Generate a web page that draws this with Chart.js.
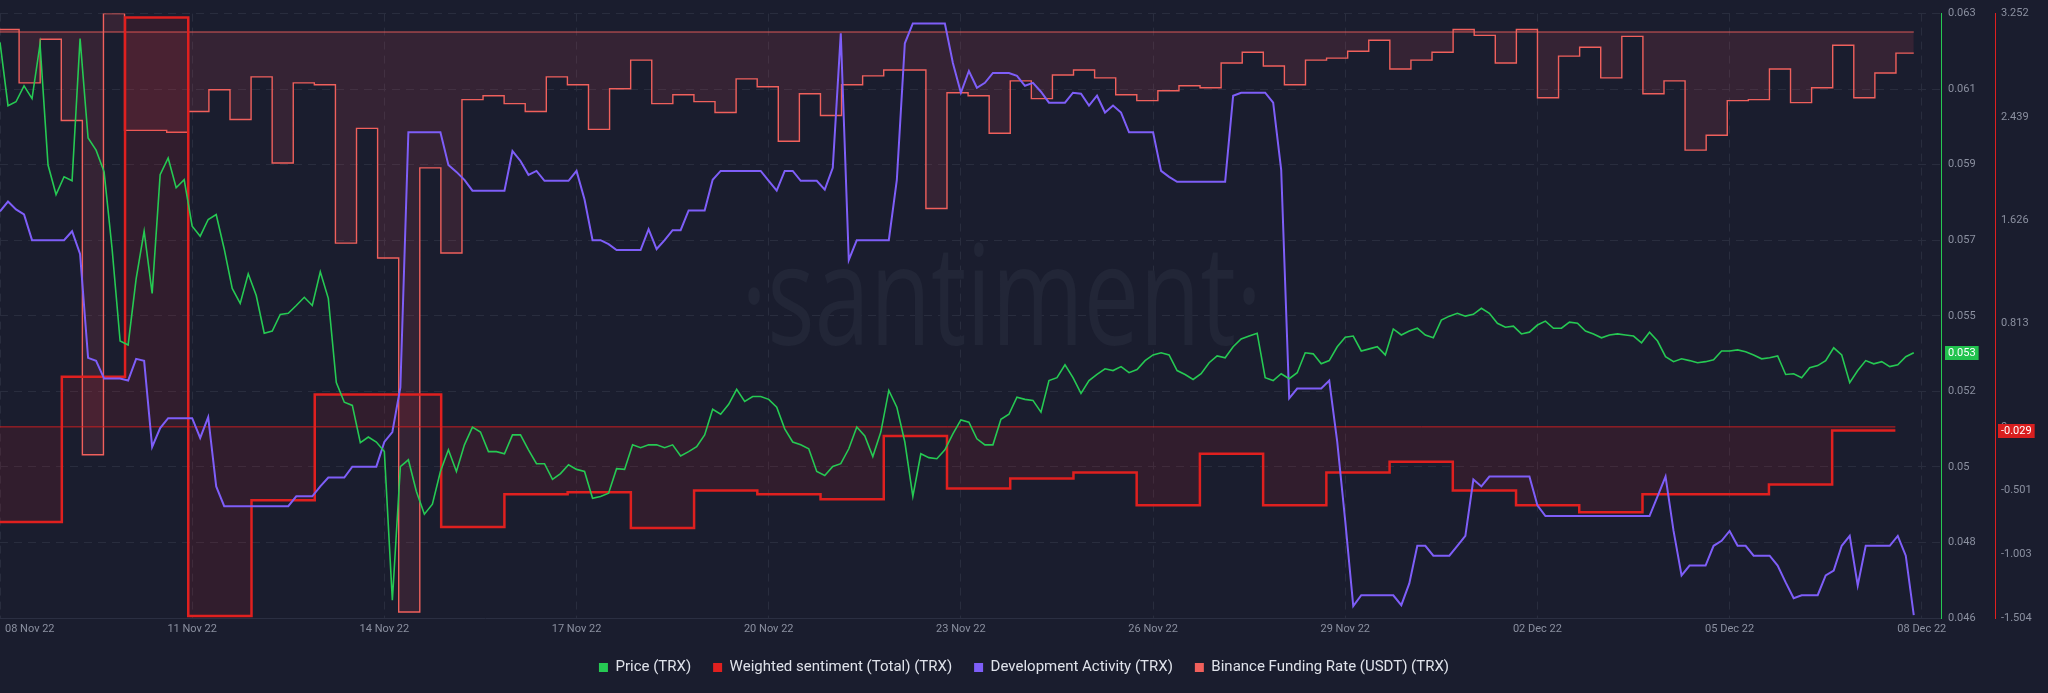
<!DOCTYPE html>
<html>
<head>
<meta charset="utf-8">
<title>TRX - Santiment</title>
<script src="https://cdn.jsdelivr.net/npm/chart.js@4.4.1/dist/chart.umd.min.js"></script>
<style>
    html, body { margin: 0; padding: 0; background: #1a1d2e; }
    #wrap { width: 2048px; height: 693px; }
</style>
</head>
<body>
<div id="wrap"><canvas id="trxChart" width="2048" height="693"></canvas></div>
<script>
// x axis labels, one every 3 days starting 08 Nov 22
const dateLabels = ['08 Nov 22', '11 Nov 22', '14 Nov 22', '17 Nov 22', '20 Nov 22', '23 Nov 22',
    '26 Nov 22', '29 Nov 22', '02 Dec 22', '05 Dec 22', '08 Dec 22'];
const priceTickLabels = ['0.046', '0.048', '0.05', '0.052', '0.055', '0.057', '0.059', '0.061', '0.063'];
const sentimentTicks = [-1.504, -1.003, -0.501, 0, 0.813, 1.626, 2.439, 3.252];

// Price (TRX), every 3 hours from 08 Nov 00:00
const priceTrx = [
    0.06219, 0.06041, 0.06052, 0.06097, 0.06061, 0.06214, 0.05874, 0.05791, 0.05841, 0.05830,
    0.06230, 0.05950, 0.05916, 0.05855, 0.05638, 0.05379, 0.05368, 0.05554, 0.05688, 0.05513,
    0.05847, 0.05894, 0.05810, 0.05833, 0.05702, 0.05674, 0.05721, 0.05735, 0.05638, 0.05527,
    0.05485, 0.05568, 0.05507, 0.05401, 0.05407, 0.05454, 0.05457, 0.05479, 0.05502, 0.05479,
    0.05574, 0.05499, 0.05262, 0.05207, 0.05198, 0.05093, 0.05109, 0.05095, 0.05068, 0.04650,
    0.05026, 0.05045, 0.04956, 0.04892, 0.04920, 0.05012, 0.05073, 0.05012, 0.05087, 0.05137,
    0.05123, 0.05068, 0.05068, 0.05062, 0.05115, 0.05115, 0.05073, 0.05034, 0.05034, 0.04990,
    0.05006, 0.05031, 0.05018, 0.05012, 0.04937, 0.04942, 0.04951, 0.05020, 0.05018, 0.05087,
    0.05079, 0.05087, 0.05087, 0.05079, 0.05087, 0.05056, 0.05068, 0.05082, 0.05115, 0.05187,
    0.05173, 0.05201, 0.05243, 0.05209, 0.05223, 0.05223, 0.05215, 0.05193, 0.05132, 0.05095,
    0.05087, 0.05076, 0.05012, 0.05001, 0.05026, 0.05034, 0.05076, 0.05137, 0.05112, 0.05054,
    0.05123, 0.05240, 0.05193, 0.05095, 0.04942, 0.05062, 0.05051, 0.05048, 0.05073, 0.05118,
    0.05157, 0.05151, 0.05104, 0.05087, 0.05087, 0.05159, 0.05173, 0.05221, 0.05215, 0.05212,
    0.05179, 0.05268, 0.05276, 0.05312, 0.05276, 0.05232, 0.05268, 0.05285, 0.05301, 0.05296,
    0.05307, 0.05290, 0.05299, 0.05324, 0.05340, 0.05346, 0.05340, 0.05296, 0.05285, 0.05271,
    0.05287, 0.05318, 0.05337, 0.05332, 0.05363, 0.05385, 0.05393, 0.05401, 0.05276, 0.05268,
    0.05287, 0.05273, 0.05290, 0.05346, 0.05343, 0.05315, 0.05324, 0.05363, 0.05390, 0.05393,
    0.05351, 0.05357, 0.05363, 0.05340, 0.05413, 0.05396, 0.05407, 0.05415, 0.05396, 0.05388,
    0.05438, 0.05449, 0.05457, 0.05449, 0.05454, 0.05471, 0.05457, 0.05429, 0.05418, 0.05421,
    0.05399, 0.05404, 0.05424, 0.05435, 0.05415, 0.05415, 0.05432, 0.05429, 0.05407, 0.05399,
    0.05388, 0.05396, 0.05399, 0.05396, 0.05393, 0.05374, 0.05404, 0.05379, 0.05335, 0.05321,
    0.05329, 0.05324, 0.05318, 0.05321, 0.05326, 0.05351, 0.05351, 0.05354, 0.05349, 0.05340,
    0.05329, 0.05332, 0.05337, 0.05285, 0.05287, 0.05276, 0.05304, 0.05310, 0.05324, 0.05360,
    0.05340, 0.05262, 0.05296, 0.05324, 0.05315, 0.05321, 0.05307, 0.05312, 0.05335, 0.05346
];

// Development Activity (TRX), same 3 hour steps
const devActivity = [
    41.1, 42.1, 41.3, 40.8, 38.2, 38.2, 38.2, 38.2, 38.2, 39.1,
    36.8, 26.3, 26.0, 24.2, 24.2, 24.2, 24.0, 26.2, 26.0, 17.3,
    19.2, 20.2, 20.2, 20.2, 20.2, 18.2, 20.3, 13.3, 11.3, 11.3,
    11.3, 11.3, 11.3, 11.3, 11.3, 11.3, 11.3, 12.3, 12.3, 12.3,
    13.3, 14.2, 14.2, 14.2, 15.3, 15.3, 15.3, 15.3, 17.8, 18.8,
    23.3, 49.1, 49.1, 49.1, 49.1, 49.1, 45.8, 45.1, 44.3, 43.2,
    43.2, 43.2, 43.2, 43.2, 47.2, 46.2, 44.8, 45.2, 44.2, 44.2,
    44.2, 44.2, 45.2, 42.3, 38.2, 38.2, 37.8, 37.2, 37.2, 37.2,
    37.2, 39.3, 37.3, 38.2, 39.2, 39.2, 41.2, 41.2, 41.2, 44.3,
    45.2, 45.2, 45.2, 45.2, 45.2, 45.2, 44.2, 43.2, 45.2, 45.2,
    44.2, 44.2, 44.2, 43.3, 45.5, 59.1, 36.2, 38.2, 38.2, 38.2,
    38.2, 38.2, 44.3, 58.1, 60.1, 60.1, 60.1, 60.1, 60.1, 56.1,
    53.1, 55.3, 53.6, 54.1, 55.1, 55.1, 55.1, 54.8, 53.8, 54.1,
    53.2, 52.1, 52.1, 52.1, 53.1, 53.0, 51.8, 52.8, 51.1, 51.8,
    51.1, 49.1, 49.1, 49.1, 49.1, 45.2, 44.6, 44.1, 44.1, 44.1,
    44.1, 44.1, 44.1, 44.1, 52.8, 53.1, 53.1, 53.1, 53.1, 52.1,
    45.3, 22.2, 23.2, 23.2, 23.2, 23.2, 24.0, 17.8, 9.8, 1.2,
    2.3, 2.3, 2.3, 2.3, 2.3, 1.3, 3.5, 7.3, 7.3, 6.3,
    6.3, 6.3, 7.3, 8.3, 14.0, 13.3, 14.3, 14.3, 14.3, 14.3,
    14.3, 14.3, 11.4, 10.3, 10.3, 10.3, 10.3, 10.3, 10.3, 10.3,
    10.3, 10.3, 10.3, 10.3, 10.3, 10.3, 10.3, 12.3, 14.3, 8.8,
    4.3, 5.3, 5.3, 5.3, 7.3, 7.8, 8.8, 7.3, 7.3, 6.3,
    6.3, 6.3, 5.3, 3.6, 2.0, 2.3, 2.3, 2.3, 4.3, 4.8,
    7.3, 8.3, 3.3, 7.3, 7.3, 7.3, 7.3, 8.3, 6.3, 0.3
];

// Weighted sentiment (Total), daily
const sentiment = [
    -0.749, 0.395, 3.221, -1.488, -0.578, 0.255, 0.255, -0.788, -0.531, -0.515,
    -0.796, -0.500, -0.531, -0.570, -0.072, -0.484, -0.406, -0.360, -0.617, -0.212,
    -0.617, -0.360, -0.274, -0.500, -0.617, -0.671, -0.531, -0.531, -0.453, -0.029
];

// Binance Funding Rate (USDT), every 8 hours (%)
const funding = [
    0.0025, -0.0515, -0.0075, -0.0895, -0.4275, 0.0185, -0.0995, -0.0995, -0.1015, -0.0805,
    -0.0585, -0.0885, -0.0455, -0.1325, -0.0515, -0.0535, -0.2135, -0.0975, -0.2285, -0.5865,
    -0.1375, -0.2235, -0.0685, -0.0645, -0.0725, -0.0805, -0.0455, -0.0535, -0.0985, -0.0575,
    -0.0285, -0.0725, -0.0635, -0.0705, -0.0815, -0.0475, -0.0555, -0.1105, -0.0625, -0.0845,
    -0.0535, -0.0445, -0.0385, -0.0385, -0.1785, -0.0615, -0.0645, -0.1025, -0.0495, -0.0675,
    -0.0435, -0.0385, -0.0465, -0.0635, -0.0695, -0.0595, -0.0545, -0.0565, -0.0315, -0.0205,
    -0.0345, -0.0535, -0.0285, -0.0265, -0.0195, -0.0085, -0.0375, -0.0285, -0.0205, 0.0025,
    -0.0035, -0.0315, 0.0025, -0.0665, -0.0245, -0.0155, -0.0465, -0.0045, -0.0625, -0.0495,
    -0.1195, -0.1045, -0.0695, -0.0685, -0.0375, -0.0715, -0.0565, -0.0135, -0.0665, -0.0415,
    -0.0215
];

// x is measured in days since 08 Nov 22 00:00
const STEP_3H = 0.125;
const SENT_START = -0.022, SENT_STEP = 0.987;
const FUND_START = -0.031, FUND_STEP = 0.3292;

const pricePoints = priceTrx.map((v, i) => ({ x: i * STEP_3H, y: v }));
const devPoints = devActivity.map((v, i) => ({ x: i * STEP_3H, y: v }));
const sentPoints = sentiment.map((v, i) => ({ x: SENT_START + i * SENT_STEP, y: v }));
sentPoints.push({ x: SENT_START + sentiment.length * SENT_STEP, y: sentiment[sentiment.length - 1] });
const fundPoints = funding.map((v, i) => ({ x: FUND_START + i * FUND_STEP, y: v }));
fundPoints.push({ x: (priceTrx.length - 1) * STEP_3H, y: funding[funding.length - 1] });

const GRID = '#292d3e';
const LABEL = '#8b90a0';

// faint logo behind the lines
const watermark = {
    id: 'watermark',
    beforeDatasetsDraw(chart) {
        const { ctx, chartArea } = chart;
        const text = '\u00b7santiment\u00b7';
        ctx.save();
        ctx.font = '400 140px "Open Sans"';
        const w = ctx.measureText(text).width;
        const sx = 521 / w;
        ctx.translate(chartArea.left + chartArea.width * 0.516, chartArea.top + chartArea.height * 0.548);
        ctx.scale(sx, 1);
        ctx.fillStyle = '#222637';
        ctx.textAlign = 'center';
        ctx.textBaseline = 'alphabetic';
        ctx.fillText(text, 0, 0);
        ctx.restore();
    }
};

// baseline at zero for the two area series
const zeroLines = {
    id: 'zeroLines',
    afterDatasetDraw(chart, args) {
        const ds = chart.data.datasets[args.index];
        if (!ds.zeroLine) return;
        const { ctx, chartArea } = chart;
        const yScale = chart.scales[ds.yAxisID];
        const xScale = chart.scales.x;
        const y = yScale.getPixelForValue(0);
        const xEnd = xScale.getPixelForValue(ds.data[ds.data.length - 1].x);
        ctx.save();
        ctx.beginPath();
        ctx.rect(chartArea.left, chartArea.top, chartArea.width, chartArea.height);
        ctx.clip();
        ctx.strokeStyle = ds.zeroLine.color;
        ctx.lineWidth = ds.zeroLine.width;
        ctx.beginPath();
        ctx.moveTo(chartArea.left, y);
        ctx.lineTo(xEnd, y);
        ctx.stroke();
        ctx.restore();
    }
};

// date labels under the plot, kept inside the canvas at both ends
const dateAxis = {
    id: 'dateAxis',
    afterDraw(chart) {
        const { ctx, chartArea } = chart;
        const x = chart.scales.x;
        ctx.save();
        ctx.font = '11px Roboto';
        ctx.fillStyle = LABEL;
        ctx.textAlign = 'center';
        ctx.textBaseline = 'middle';
        dateLabels.forEach((label, i) => {
            const w = ctx.measureText(label).width;
            let px = x.getPixelForValue(i * 3);
            px = Math.max(px, chartArea.left + 5 + w / 2);
            px = Math.min(px, chartArea.right + 20 - w / 2);
            ctx.fillText(label, px, chartArea.bottom + 11);
        });
        ctx.restore();
    }
};

// last value tags on the two visible axes
function drawBadge(ctx, x, y, text, bg) {
    ctx.font = '11px Roboto';
    const w = ctx.measureText(text).width + 6;
    ctx.fillStyle = bg;
    ctx.fillRect(x, Math.round(y) - 7, w, 14);
    ctx.fillStyle = '#ffffff';
    ctx.textAlign = 'left';
    ctx.textBaseline = 'middle';
    ctx.fillText(text, x + 3, Math.round(y) + 0.5);
}
const lastValues = {
    id: 'lastValues',
    afterDraw(chart) {
        const { ctx } = chart;
        const yPrice = chart.scales.yPrice;
        const ySent = chart.scales.ySent;
        const p = priceTrx[priceTrx.length - 1];
        const s = sentiment[sentiment.length - 1];
        ctx.save();
        drawBadge(ctx, yPrice.left + 4, yPrice.getPixelForValue(p), p.toFixed(3), '#22c24e');
        drawBadge(ctx, ySent.left + 3, ySent.getPixelForValue(s), s.toFixed(3), '#d81f1f');
        ctx.restore();
    }
};

const ctx = document.getElementById('trxChart').getContext('2d');
const chart = new Chart(ctx, {
    type: 'line',
    data: {
        datasets: [{
            label: 'Price (TRX)',
            data: pricePoints,
            yAxisID: 'yPrice',
            borderColor: '#26c953',
            borderWidth: 1.6,
            pointRadius: 0,
            fill: false,
            order: 1
        }, {
            label: 'Weighted sentiment (Total) (TRX)',
            data: sentPoints,
            yAxisID: 'ySent',
            borderColor: '#e0201f',
            backgroundColor: 'rgba(220, 30, 45, 0.12)',
            borderWidth: 2.5,
            stepped: true,
            fill: 'origin',
            pointRadius: 0,
            zeroLine: { color: 'rgba(224, 32, 31, 0.85)', width: 1 },
            order: 3
        }, {
            label: 'Development Activity (TRX)',
            data: devPoints,
            yAxisID: 'yDev',
            borderColor: '#7e5ef8',
            borderWidth: 2,
            pointRadius: 0,
            fill: false,
            order: 2
        }, {
            label: 'Binance Funding Rate (USDT) (TRX)',
            data: fundPoints,
            yAxisID: 'yFund',
            borderColor: '#f0605c',
            backgroundColor: 'rgba(240, 80, 95, 0.13)',
            borderWidth: 1.4,
            stepped: true,
            fill: 'origin',
            pointRadius: 0,
            zeroLine: { color: 'rgba(240, 96, 92, 0.45)', width: 2 },
            order: 4
        }]
    },
    options: {
        responsive: false,
        animation: false,
        layout: { padding: { top: 7, bottom: 8, left: 0, right: 0 } },
        plugins: {
            tooltip: { enabled: false },
            legend: {
                position: 'bottom',
                labels: {
                    boxWidth: 9,
                    boxHeight: 9,
                    padding: 22,
                    color: '#dfe2ea',
                    font: { family: 'Roboto', size: 15 },
                    generateLabels: (c) => c.data.datasets.map((ds, i) => ({
                        text: ds.label,
                        fillStyle: ds.borderColor,
                        strokeStyle: ds.borderColor,
                        lineWidth: 0,
                        fontColor: '#dfe2ea',
                        hidden: false,
                        datasetIndex: i
                    }))
                }
            }
        },
        scales: {
            x: {
                type: 'linear',
                min: 0,
                max: 30.3,
                afterBuildTicks: (s) => { s.ticks = dateLabels.map((_, i) => ({ value: i * 3 })); },
                afterFit: (s) => { s.height = 20; },
                ticks: { display: false },
                grid: { color: GRID, drawTicks: false },
                border: { color: '#2b2f42', width: 1, dash: [8, 6] }
            },
            yPrice: {
                type: 'linear',
                position: 'right',
                weight: 0,
                min: 0.046,
                max: 0.063,
                afterBuildTicks: (s) => {
                    s.ticks = priceTickLabels.map((_, k) => ({ value: 0.046 + k * (0.017 / 8) }));
                },
                afterFit: (s) => { s.width = 54; },
                ticks: {
                    callback: (v, i) => priceTickLabels[i],
                    color: LABEL,
                    font: { family: 'Roboto', size: 11 },
                    padding: 7,
                    autoSkip: false
                },
                grid: { color: GRID, drawTicks: false },
                border: { color: '#26c953', width: 1, dash: [8, 6] }
            },
            ySent: {
                type: 'linear',
                position: 'right',
                weight: 1,
                min: -1.504,
                max: 3.252,
                afterBuildTicks: (s) => { s.ticks = sentimentTicks.map(v => ({ value: v })); },
                afterFit: (s) => { s.width = 53; },
                ticks: {
                    callback: (v) => String(v),
                    color: LABEL,
                    font: { family: 'Roboto', size: 11 },
                    padding: 6,
                    autoSkip: false
                },
                grid: { display: false, drawTicks: false },
                border: { color: '#e0201f', width: 1 }
            },
            yDev: { type: 'linear', display: false, min: 0, max: 61.1 },
            yFund: { type: 'linear', display: false, min: -0.5925, max: 0.0185 }
        }
    },
    plugins: [watermark, zeroLines, dateAxis, lastValues]
});
</script>
</body>
</html>
